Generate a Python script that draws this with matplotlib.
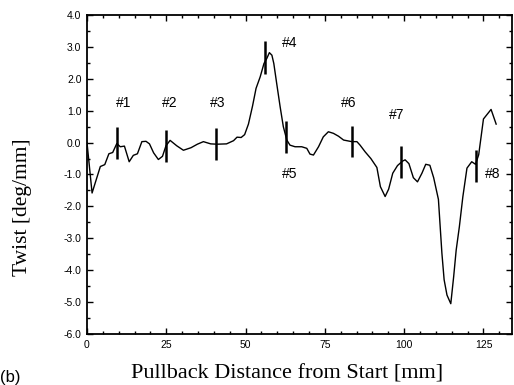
import matplotlib
matplotlib.use("Agg")
import matplotlib.pyplot as plt
from matplotlib.ticker import MultipleLocator, FormatStrFormatter

# Data
distance = [0, 1.6, 4.2, 5.6, 6.9, 8.1, 9.4, 10.5, 11.8, 13.3, 14.6, 15.9, 17.3, 18.6, 19.7,
            21.0, 22.5, 23.8, 24.9, 26.2, 28.3, 30.4, 32.8, 34.8, 36.7, 39.0, 41.0, 44.0, 46.2,
            47.3, 48.6, 49.7, 50.9, 52.2, 53.3, 54.6, 55.8, 56.7, 57.5, 58.3, 58.9, 59.8, 60.9,
            61.9, 63.0, 64.0, 65.6, 67.7, 69.3, 70.3, 71.4, 73.0, 74.5, 76.1, 77.7, 79.3, 80.9,
            83.5, 85.1, 86.1, 87.7, 89.5, 91.4, 92.5, 94.0, 95.1, 96.4, 97.9, 99.5, 100.3, 101.5,
            102.9, 104.2, 105.6, 106.8, 108.1, 109.3, 110.8, 111.9, 112.6, 113.5, 114.7, 115.6,
            116.4, 117.4, 118.5, 119.8, 121.3, 122.5, 123.5, 125.0, 127.4, 129.0]
twist = [0.0, -1.58, -0.75, -0.69, -0.35, -0.31, -0.03, -0.13, -0.11, -0.60, -0.40, -0.35, 0.03,
         0.04, -0.04, -0.32, -0.53, -0.43, -0.10, 0.07, -0.10, -0.24, -0.16, -0.05, 0.03, -0.04,
         -0.05, -0.04, 0.06, 0.17, 0.16, 0.25, 0.58, 1.15, 1.70, 2.06, 2.48, 2.64, 2.82, 2.74,
         2.48, 1.86, 1.12, 0.50, 0.08, -0.08, -0.13, -0.13, -0.18, -0.36, -0.39, -0.13, 0.18,
         0.34, 0.29, 0.20, 0.08, 0.03, 0.03, -0.08, -0.29, -0.50, -0.78, -1.38, -1.69, -1.46,
         -0.96, -0.72, -0.58, -0.54, -0.66, -1.10, -1.23, -0.96, -0.68, -0.71, -1.10, -1.78,
         -3.47, -4.30, -4.78, -5.05, -4.21, -3.37, -2.64, -1.70, -0.80, -0.60, -0.68, -0.38,
         0.74, 1.04, 0.58]

marker_labels = ["#1", "#2", "#3", "#4", "#5", "#6", "#7", "#8"]
marker_x = [9.4, 24.9, 40.7, 56.2, 62.8, 83.5, 99.1, 122.5]
marker_low = [-0.52, -0.60, -0.55, 2.15, -0.32, -0.46, -1.12, -1.23]
marker_high = [0.50, 0.39, 0.45, 3.19, 0.68, 0.52, -0.11, -0.24]
label_x = [11.4, 26.2, 41.2, 63.8, 63.8, 82.6, 97.7, 127.9]
label_y = [1.23, 1.23, 1.23, 3.11, -0.97, 1.23, 0.86, -0.97]

fig = plt.figure(figsize=(5.14, 3.85), dpi=100)
ax = fig.add_axes([87/514, 1 - 334/385, (512 - 87)/514, (334 - 15)/385])

ax.plot(distance, twist, color="black", lw=1.0)
ax.vlines(marker_x, marker_low, marker_high, color="black", lw=1.8)
for lab, lx, ly in zip(marker_labels, label_x, label_y):
    ax.text(lx, ly, lab, ha="center", va="center", fontsize=10,
            family="Liberation Sans", color="black")

ax.set_xlim(0, 134)
ax.set_ylim(-6.0, 4.0)
ax.xaxis.set_major_locator(MultipleLocator(25))
ax.xaxis.set_minor_locator(MultipleLocator(5))
ax.yaxis.set_major_locator(MultipleLocator(1.0))
ax.yaxis.set_minor_locator(MultipleLocator(0.5))
ax.yaxis.set_major_formatter(FormatStrFormatter("%.1f"))
ax.tick_params(which="both", direction="in", top=True, right=True,
               labelsize=7.5, width=1.0, pad=4)
ax.tick_params(which="major", length=4)
ax.tick_params(which="minor", length=2)
for lbl in ax.get_xticklabels() + ax.get_yticklabels():
    lbl.set_family("Liberation Sans")
for sp in ax.spines.values():
    sp.set_linewidth(1.3)

fig.text(287/514, 1 - 378/385, "Pullback Distance from Start [mm]", ha="center", va="baseline",
         fontsize=16, family="Liberation Serif")
fig.text(23/514, 1 - 207/385, "Twist [deg/mm]", ha="center", va="center", rotation=90,
         fontsize=15.5, family="Liberation Serif")
fig.text(0, 0, "(b)", ha="left", va="bottom", fontsize=12,
         family="Liberation Sans")

fig.savefig("out.png", dpi=100)
